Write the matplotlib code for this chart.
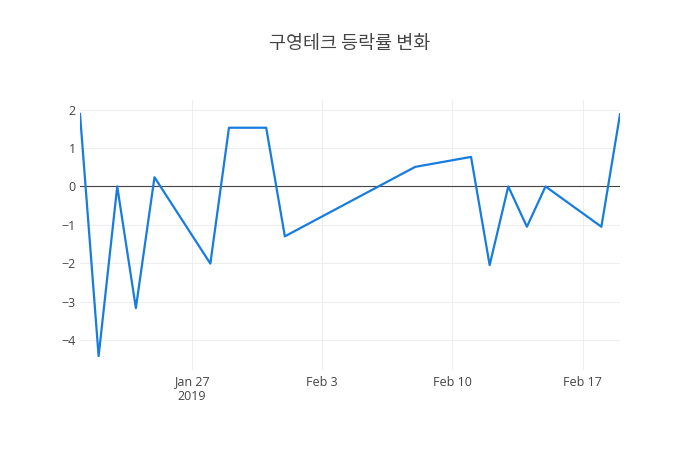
import numpy as np
import pandas as pd
import matplotlib
matplotlib.use('Agg')
import matplotlib.pyplot as plt
import matplotlib.dates as mdates

# 구영테크 daily change (%)
dates = ['2019-01-21', '2019-01-22', '2019-01-23', '2019-01-24', '2019-01-25',
         '2019-01-28', '2019-01-29', '2019-01-31', '2019-02-01', '2019-02-08',
         '2019-02-11', '2019-02-12', '2019-02-13', '2019-02-14', '2019-02-15',
         '2019-02-18', '2019-02-19']
change = [1.89, -4.42, 0.0, -3.17, 0.24,
          -2.01, 1.53, 1.53, -1.30, 0.51,
          0.77, -2.05, 0.0, -1.05, 0.0,
          -1.05, 1.88]
x_ticks = ['2019-01-27', '2019-02-03', '2019-02-10', '2019-02-17']
x_labels = ['Jan 27\n2019', 'Feb 3', 'Feb 10', 'Feb 17']
y_ticks = [2, 1, 0, -1, -2, -3, -4]
y_labels = ['2', '1', '0', '\u22121', '\u22122', '\u22123', '\u22124']

x = pd.to_datetime(dates)

plt.rcParams['font.family'] = ['Open Sans', 'DejaVu Sans']

fig = plt.figure(figsize=(7, 4.5), dpi=100)
ax = fig.add_axes([80/700, 80/450, 540/700, 270/450])

ax.plot(x, change, color='#167ce0', lw=1.6, zorder=3)
ax.axhline(0, color='#444444', lw=0.8, zorder=2)

ax.set_xlim(x[0], x[-1])
lo, hi = min(change), max(change)
pad = (hi - lo) * 0.0575
ax.set_ylim(lo - pad, hi + pad)

ax.set_xticks(pd.to_datetime(x_ticks))
ax.set_xticklabels(x_labels)
ax.set_yticks(y_ticks)
ax.set_yticklabels(y_labels)

ax.grid(True, color='#eeeeee', lw=0.8, zorder=0)
ax.set_axisbelow(True)
for s in ax.spines.values():
    s.set_visible(False)
ax.tick_params(length=0, labelsize=9, labelcolor='#444444')
ax.tick_params(axis='x', pad=4)
ax.tick_params(axis='y', pad=3)
for lab in ax.get_xticklabels():
    lab.set_linespacing(1.15)

fig.text(0.5, 1 - 44/450, '구영테크 등락률 변화', ha='center', va='center',
         fontsize=13.3, color='#444444',
         family=['Noto Sans CJK KR', 'DejaVu Sans'])

fig.savefig('out.png', dpi=100, facecolor='white')
